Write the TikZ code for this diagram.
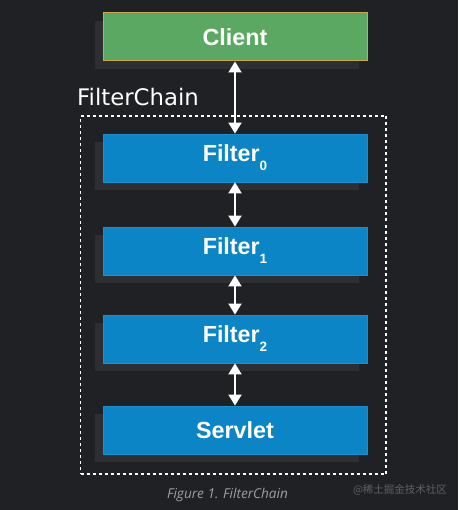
\documentclass[tikz,border=0pt]{standalone}
\usepackage{fontspec}
\setmainfont{Liberation Sans}
\newfontfamily\labelfont{DejaVu Sans}
\newfontfamily\capfont{Open Sans}
\newfontfamily\cjkfont{Noto Sans CJK SC}
\usetikzlibrary{arrows.meta,shadows}
\definecolor{bgc}{HTML}{1F2124}
\definecolor{shadowc}{HTML}{2D2F32}
\definecolor{greenc}{HTML}{5AA862}
\definecolor{greenb}{HTML}{C8A855}
\definecolor{bluec}{HTML}{0B85C6}
\definecolor{blueb}{HTML}{1A90CF}
\definecolor{capc}{HTML}{9C9EA2}
\definecolor{wmc}{HTML}{5E6064}
\tikzset{
  box/.style={rectangle, minimum width=264pt, minimum height=48pt, inner sep=0pt,
    text=white, font=\fontsize{23.3}{23.3}\selectfont\bfseries,
    general shadow={fill=shadowc, shadow xshift=-8pt, shadow yshift=-8pt}},
  clientbox/.style={box, fill=greenc, draw=greenb, line width=1pt},
  bluebox/.style={box, fill=bluec, draw=blueb, line width=0.8pt},
  link/.style={draw=white, line width=2pt, {Triangle[width=13pt,length=11pt]}-{Triangle[width=13pt,length=11pt]}},
  chainbox/.style={rectangle, draw=white, dash pattern=on 3pt off 3pt, line width=1.4pt, inner sep=0pt},
}
\newcommand{\sub}[1]{\raisebox{-9pt}{\fontsize{13.5}{13.5}\selectfont #1}}
\begin{document}
\begin{tikzpicture}[x=1pt,y=-1pt]
\fill[bgc] (0,0) rectangle (458,510);
\useasboundingbox (0,0) rectangle (458,510);
\node[chainbox, minimum width=305.5pt, minimum height=358pt] (chain) at (233.25,295) {};
\node[anchor=base west, inner sep=0pt, text=white, font=\labelfont\fontsize{22.8}{22.8}\selectfont] (chainlabel) at (77,105.7) {FilterChain};
\node[clientbox] (client) at (235,37) {Client};
\node[bluebox] (f0) at (235,158) {Filter\sub{0}};
\node[bluebox] (f1) at (235,251) {Filter\sub{1}};
\node[bluebox] (f2) at (235,339) {Filter\sub{2}};
\node[bluebox] (servlet) at (235,430) {Servlet};
\draw[link] (client.south) -- (f0.north);
\draw[link] (f0.south) -- (f1.north);
\draw[link] (f1.south) -- (f2.north);
\draw[link] (f2.south) -- (servlet.north);
\node[anchor=base, text=capc, font=\capfont\itshape\fontsize{13.6}{13.6}\selectfont] (caption) at (227.5,498) {Figure 1. FilterChain};
\node[anchor=center, text=wmc, font=\cjkfont\fontsize{10.5}{10.5}\selectfont] (wm) at (400,490) {@稀土掘金技术社区};
\end{tikzpicture}
\end{document}
